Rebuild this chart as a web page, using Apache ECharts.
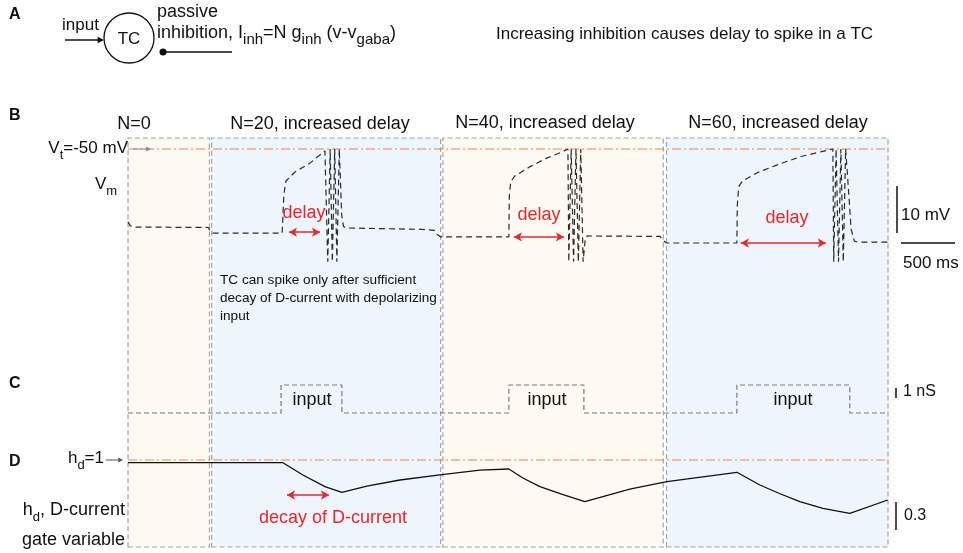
<!DOCTYPE html>
<html>
<head>
<meta charset="utf-8">
<script src="https://cdn.jsdelivr.net/npm/echarts@6.0.0/dist/echarts.min.js"></script>
<style>
  html, body { margin: 0; padding: 0; background: #fff; }
  #main { width: 963px; height: 553px; }
</style>
</head>
<body>
<div id="main"></div>
<script>
// time in ms, Vm in mV, input in nS, hd dimensionless
var boxes = [[0, 750], [770, 2880], [2900, 4930], [4960, 7000]];
var boxColors = ['#fffbf3', '#eff5fd', '#fffbf3', '#eff5fd'];
var boxTitles = ['N=0', 'N=20, increased delay', 'N=40, increased delay', 'N=60, increased delay'];

var vmBox1 = [[0, -65.5], [20, -66.3], [50, -66.6], [740, -66.7], [755, -67.4], [780, -67.9]];
var vmBox2 = [[1420, -67.9], [1427, -64], [1436, -59.6], [1455, -56.8], [1538, -54.9], [1676, -53],
  [1814, -50.4], [1832, -50], [1840, -74], [1852, -74], [1862, -50], [1872, -50], [1882, -74],
  [1894, -74], [1904, -50], [1914, -50], [1924, -74], [1936, -74], [1946, -50], [1958, -50],
  [1968, -64], [1985, -66.5], [2010, -66.8], [2700, -67.1], [2820, -67.3], [2850, -68.2], [2880, -68.7]];
var vmBox3 = [[3508, -68.7], [3512, -60], [3525, -57], [3560, -55.8], [3700, -53.8], [3850, -52],
  [4000, -50.6], [4052, -50], [4060, -74], [4072, -74], [4082, -50], [4094, -50], [4104, -74],
  [4116, -74], [4126, -50], [4138, -50], [4148, -74], [4160, -74], [4170, -50], [4182, -50],
  [4192, -74], [4202, -74], [4212, -69], [4230, -68.5], [4900, -68.6], [4930, -69.5], [4960, -70]];
var vmBox4 = [[5608, -70], [5612, -62], [5625, -58], [5660, -56.8], [5800, -55], [6000, -53.2],
  [6200, -51.6], [6400, -50.5], [6492, -50], [6500, -74], [6512, -74], [6522, -50], [6534, -50],
  [6544, -74], [6556, -74], [6566, -50], [6578, -50], [6588, -74], [6600, -74], [6610, -50],
  [6620, -50], [6640, -60], [6660, -67], [6690, -69.6], [6720, -69.8], [7000, -69.8]];
var vThreshold = -50;
var delays = [[1483, 1768, -67.7], [3554, 4015, -68.7], [5645, 6427, -70]];

var inputPulses = [[1410, 1970], [3508, 4199], [5608, 6648]];
var inputAmp = 2.8;

var hdTrace = [[0, 0.971], [1427, 0.971], [1611, 0.839], [1814, 0.713], [1970, 0.653],
  [2200, 0.72], [2505, 0.785], [2873, 0.839], [3241, 0.892], [3508, 0.903], [3637, 0.806],
  [3794, 0.713], [4000, 0.63], [4208, 0.552], [4622, 0.688], [4963, 0.767], [5608, 0.868],
  [5820, 0.731], [6000, 0.64], [6188, 0.552], [6400, 0.48], [6648, 0.427], [6998, 0.570]];
var hdRef = 1;
var hdDecay = [1464, 1851, 0.624];

var vm = vmBox1.concat(vmBox2, vmBox3, vmBox4);
var inputData = [[0, 0]];
inputPulses.forEach(function (p) {
  inputData.push([p[0], 0], [p[0], inputAmp], [p[1], inputAmp], [p[1], 0]);
});
inputData.push([7000, 0]);

var FONT = "'Liberation Sans', Arial, Helvetica, sans-serif";
var RED = '#e8282b';
var ORANGE = '#ee8650';
var main = echarts.init(document.getElementById('main'));

function txt(x, y, text, opt) {
  opt = opt || {};
  return {
    type: 'text', x: x, y: y, silent: true, z: 100,
    style: {
      text: text, fill: opt.color || '#111', fontFamily: FONT,
      fontSize: opt.size || 17, fontWeight: opt.bold ? 'bold' : 'normal',
      align: opt.align || 'left', verticalAlign: 'middle',
      rich: opt.rich
    }
  };
}
function sub(size, subSize) {
  return {
    n: { fontSize: size || 17, fontFamily: FONT, lineHeight: 28, fill: '#111' },
    s: { fontSize: subSize || 13, fontFamily: FONT, lineHeight: 13, verticalAlign: 'bottom', fill: '#111' }
  };
}
function bar(x1, y1, x2, y2, w, c) {
  return { type: 'line', silent: true, z: 100, shape: { x1: x1, y1: y1, x2: x2, y2: y2 },
    style: { stroke: c || '#111', lineWidth: w || 1.5 } };
}
function head(x, y, c, size) {
  size = size || 5;
  return { type: 'polygon', silent: true, z: 100,
    shape: { points: [[x, y], [x - size * 1.6, y - size * 0.8], [x - size * 1.6, y + size * 0.8]] },
    style: { fill: c || '#111' } };
}
function refLine(xi, val) {
  return {
    type: 'line', xAxisIndex: xi, yAxisIndex: xi, data: [[0, val], [7000, val]], symbol: 'none',
    silent: true, z: 4, lineStyle: { color: ORANGE, width: 1.1, type: [9, 3, 2, 3] }
  };
}
function arrows(xi, list) {
  return {
    type: 'line', xAxisIndex: xi, yAxisIndex: xi, data: [], silent: true, z: 6,
    markLine: {
      silent: true, symbol: ['arrow', 'arrow'], symbolSize: [7, 8], label: { show: false },
      lineStyle: { color: RED, width: 1.5, type: 'solid' },
      data: list.map(function (d) { return [{ coord: [d[0], d[2]] }, { coord: [d[1], d[2]] }]; })
    }
  };
}

var xAxisBase = { type: 'value', min: 0, max: 7000, show: false };
var yHidden = { type: 'value', show: false, scale: false };

var option = {
  animation: false,
  grid: [
    { left: 128, right: 75, top: 138, height: 409 },
    { left: 128, right: 75, top: 139.6, height: 126.9 },
    { left: 128, right: 75, top: 378, height: 40 },
    { left: 128, right: 75, top: 450.7, height: 74.4 }
  ],
  xAxis: [0, 1, 2, 3].map(function (i) { return Object.assign({ gridIndex: i }, xAxisBase); }),
  yAxis: [
    Object.assign({ gridIndex: 0, min: 0, max: 1 }, yHidden),
    Object.assign({ gridIndex: 1, min: -75, max: -48 }, yHidden),
    Object.assign({ gridIndex: 2, min: -0.5, max: 3.5 }, yHidden),
    Object.assign({ gridIndex: 3, min: 0.3, max: 1.1 }, yHidden)
  ],
  series: [
    {
      type: 'line', xAxisIndex: 0, yAxisIndex: 0, data: [], silent: true, z: 1,
      markArea: {
        silent: true,
        data: boxes.map(function (b, i) {
          return [{ xAxis: b[0], itemStyle: { color: boxColors[i], borderColor: '#a4a4a4',
            borderWidth: 1.2, borderType: [5, 3] } }, { xAxis: b[1] }];
        })
      }
    },
    refLine(1, vThreshold),
    {
      name: 'Vm', type: 'line', xAxisIndex: 1, yAxisIndex: 1, data: vm, symbol: 'none',
      silent: true, z: 5,
      lineStyle: { color: '#2a2a2a', width: 1.2, type: [6, 4] }
    },
    arrows(1, delays),
    {
      name: 'input', type: 'line', xAxisIndex: 2, yAxisIndex: 2, data: inputData, symbol: 'none',
      silent: true, z: 5,
      lineStyle: { color: '#7a7a7a', width: 1.2, type: [5, 3] }
    },
    refLine(3, hdRef),
    {
      name: 'hd', type: 'line', xAxisIndex: 3, yAxisIndex: 3, data: hdTrace, symbol: 'none',
      silent: true, z: 5,
      lineStyle: { color: '#111', width: 1.3 }
    },
    arrows(3, [hdDecay])
  ],
  graphic: { elements: [
    // panel A
    txt(9, 15, 'A', { bold: true, size: 16 }),
    txt(62, 25, 'input'),
    bar(65, 40, 98, 40, 1.5),
    head(104, 40, '#111', 4),
    { type: 'circle', silent: true, shape: { cx: 129, cy: 38, r: 25 },
      style: { fill: 'none', stroke: '#111', lineWidth: 1.3 } },
    txt(129, 39, 'TC', { align: 'center', size: 17 }),
    txt(157, 12, 'passive', { size: 18 }),
    txt(157, 33, '{n|inhibition, I}{s|inh}{n|=N g}{s|inh}{n| (v-v}{s|gaba}{n|)}', { rich: sub(18, 15) }),
    bar(163, 52, 232, 52, 1.5),
    { type: 'circle', silent: true, shape: { cx: 163, cy: 52, r: 3.5 }, style: { fill: '#111' } },
    txt(496, 34, 'Increasing inhibition causes delay to spike in a TC', { size: 17 }),
    // panel B
    txt(9, 116, 'B', { bold: true, size: 16 }),
    txt(134, 124, boxTitles[0], { align: 'center', size: 18 }),
    txt(320, 124, boxTitles[1], { align: 'center', size: 18 }),
    txt(545, 123, boxTitles[2], { align: 'center', size: 18 }),
    txt(778, 123, boxTitles[3], { align: 'center', size: 18 }),
    txt(128, 148, '{n|V}{s|t}{n|=-50 mV}', { align: 'right', rich: sub(17) }),
    bar(133, 149, 146, 149, 1, '#888'),
    head(151, 149, '#888', 3),
    txt(95, 184, '{n|V}{s|m}', { rich: sub(17) }),
    txt(304, 213, 'delay', { align: 'center', color: RED, size: 18 }),
    txt(539, 215, 'delay', { align: 'center', color: RED, size: 18 }),
    txt(787, 218, 'delay', { align: 'center', color: RED, size: 18 }),
    txt(220, 280, 'TC can spike only after sufficient', { size: 13.6 }),
    txt(220, 298, 'decay of D-current with depolarizing', { size: 13.6 }),
    txt(220, 316, 'input', { size: 13.6 }),
    bar(897, 186, 897, 233, 1.5),
    txt(901, 215, '10 mV', { size: 17 }),
    bar(901, 243, 955, 243, 1.5),
    txt(903, 263, '500 ms', { size: 17 }),
    // panel C
    txt(9, 384, 'C', { bold: true, size: 16 }),
    txt(312, 400, 'input', { align: 'center', size: 18 }),
    txt(547, 400, 'input', { align: 'center', size: 18 }),
    txt(793, 400, 'input', { align: 'center', size: 18 }),
    bar(896, 388, 896, 398, 1.5),
    txt(903, 392, '1 nS', { size: 16 }),
    // panel D
    txt(9, 462, 'D', { bold: true, size: 16 }),
    txt(104, 458, '{n|h}{s|d}{n|=1}', { align: 'right', rich: sub(17) }),
    bar(106, 460, 118, 460, 1, '#555'),
    head(123, 460, '#555', 3),
    txt(125, 510, '{n|h}{s|d}{n|, D-current}', { align: 'right', rich: sub(18) }),
    txt(125, 540, 'gate variable', { align: 'right', size: 18 }),
    txt(333, 518, 'decay of D-current', { align: 'center', color: RED, size: 18 }),
    bar(896, 502, 896, 530, 1.5),
    txt(904, 516, '0.3', { size: 16 })
  ] }
};
main.setOption(option);
</script>
</body>
</html>
